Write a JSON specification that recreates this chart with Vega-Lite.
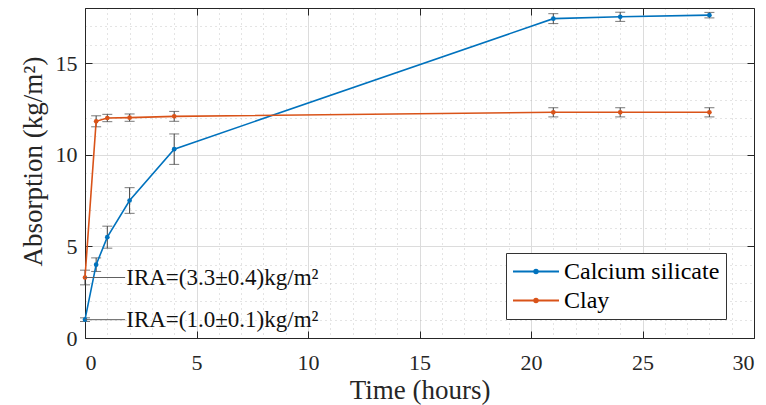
{
  "$schema": "https://vega.github.io/schema/vega-lite/v6.json",
  "width": 669,
  "height": 330,
  "autosize": {"type": "none"},
  "padding": {"left": 85, "top": 8, "right": 12, "bottom": 67},
  "background": "white",
  "config": {
    "view": {"stroke": null},
    "font": "Liberation Serif",
    "axis": {
      "labelFont": "Liberation Serif",
      "titleFont": "Liberation Serif",
      "labelFontSize": 22,
      "titleFontSize": 27,
      "titleFontWeight": "normal",
      "labelColor": "#262626",
      "titleColor": "#262626",
      "domainColor": "#262626",
      "tickColor": "#262626"
    },
    "legend": {"labelFont": "Liberation Serif"},
    "text": {"font": "Liberation Serif"}
  },
  "datasets": {
    "series": [
      {"time": 0, "value": 1.0, "lo": 0.9, "hi": 1.1, "material": "Calcium silicate"},
      {"time": 0.5, "value": 4.0, "lo": 3.63, "hi": 4.37, "material": "Calcium silicate"},
      {"time": 1, "value": 5.5, "lo": 4.9, "hi": 6.1, "material": "Calcium silicate"},
      {"time": 2, "value": 7.5, "lo": 6.8, "hi": 8.2, "material": "Calcium silicate"},
      {"time": 4, "value": 10.3, "lo": 9.47, "hi": 11.13, "material": "Calcium silicate"},
      {"time": 21, "value": 17.42, "lo": 17.15, "hi": 17.69, "material": "Calcium silicate"},
      {"time": 24, "value": 17.52, "lo": 17.27, "hi": 17.77, "material": "Calcium silicate"},
      {"time": 28, "value": 17.61, "lo": 17.46, "hi": 17.76, "material": "Calcium silicate"},
      {"time": 0, "value": 3.3, "lo": 2.9, "hi": 3.7, "material": "Clay"},
      {"time": 0.5, "value": 11.82, "lo": 11.52, "hi": 12.12, "material": "Clay"},
      {"time": 1, "value": 12.0, "lo": 11.8, "hi": 12.2, "material": "Clay"},
      {"time": 2, "value": 12.02, "lo": 11.82, "hi": 12.22, "material": "Clay"},
      {"time": 4, "value": 12.09, "lo": 11.82, "hi": 12.36, "material": "Clay"},
      {"time": 21, "value": 12.31, "lo": 12.06, "hi": 12.56, "material": "Clay"},
      {"time": 24, "value": 12.31, "lo": 12.06, "hi": 12.56, "material": "Clay"},
      {"time": 28, "value": 12.31, "lo": 12.06, "hi": 12.56, "material": "Clay"}
    ],
    "notes": [
      {"x0": 0, "x1": 1.8, "xt": 1.85, "y": 3.3, "label": "IRA=(3.3±0.4)kg/m²"},
      {"x0": 0, "x1": 1.8, "xt": 1.85, "y": 1.0, "label": "IRA=(1.0±0.1)kg/m²"}
    ]
  },
  "resolve": {"axis": {"x": "independent", "y": "independent"}},
  "layer": [
    {
      "data": {"name": "series"},
      "mark": {"type": "point", "opacity": 0},
      "encoding": {
        "x": {"field": "time", "type": "quantitative", "scale": {"domain": [0, 30], "nice": false, "zero": false},
          "axis": {"orient": "bottom", "values": [1,2,3,4,6,7,8,9,11,12,13,14,16,17,18,19,21,22,23,24,26,27,28,29], "grid": true, "gridDash": [1, 4], "gridColor": "#b0b0b0", "gridOpacity": 0.7, "labels": false, "ticks": false, "domain": false, "title": null}},
        "y": {"field": "value", "type": "quantitative", "scale": {"domain": [0, 18], "nice": false, "zero": false},
          "axis": {"orient": "left", "values": [1,2,3,4,6,7,8,9,11,12,13,14,16,17,18], "grid": true, "gridDash": [1, 4], "gridColor": "#b0b0b0", "gridOpacity": 0.7, "labels": false, "ticks": false, "domain": false, "title": null}}
      }
    },
    {
      "data": {"name": "series"},
      "mark": {"type": "rule", "color": "#404040", "strokeWidth": 1},
      "encoding": {
        "x": {"field": "time", "type": "quantitative",
          "axis": {"orient": "top", "values": [0,5,10,15,20,25,30], "grid": false, "labels": false, "ticks": true, "tickSize": -7, "domain": true, "title": null}},
        "y": {"field": "lo", "type": "quantitative",
          "axis": {"orient": "right", "values": [0,5,10,15], "grid": false, "labels": false, "ticks": true, "tickSize": -7, "domain": true, "title": null}},
        "y2": {"field": "hi"}
      }
    },
    {
      "data": {"name": "series"},
      "mark": {"type": "tick", "orient": "horizontal", "color": "#404040", "size": 10, "thickness": 1},
      "encoding": {
        "x": {"field": "time", "type": "quantitative", "axis": null},
        "y": {"field": "lo", "type": "quantitative", "axis": null}
      }
    },
    {
      "data": {"name": "series"},
      "mark": {"type": "tick", "orient": "horizontal", "color": "#404040", "size": 10, "thickness": 1},
      "encoding": {
        "x": {"field": "time", "type": "quantitative", "axis": null},
        "y": {"field": "hi", "type": "quantitative", "axis": null}
      }
    },
    {
      "data": {"name": "series"},
      "mark": {"type": "line", "strokeWidth": 1.6, "point": {"filled": true, "size": 22}},
      "encoding": {
        "x": {"field": "time", "type": "quantitative",
          "axis": {"orient": "bottom", "values": [0,5,10,15,20,25,30], "grid": true, "gridColor": "#dcdcdc", "gridOpacity": 1, "labels": true, "labelFont": "Liberation Serif", "labelFontSize": 22, "ticks": true, "tickSize": -7, "labelPadding": 21, "domain": true, "title": "Time (hours)", "titleFont": "Liberation Serif", "titlePadding": 4}},
        "y": {"field": "value", "type": "quantitative",
          "axis": {"orient": "left", "values": [0,5,10,15], "grid": true, "gridColor": "#dcdcdc", "gridOpacity": 1, "labels": true, "labelFont": "Liberation Serif", "labelFontSize": 22, "ticks": true, "tickSize": -7, "labelPadding": 15, "domain": true, "title": "Absorption (kg/m²)", "titleFont": "Liberation Serif", "titlePadding": 8, "titleY": 153}},
        "color": {"field": "material", "type": "nominal",
          "scale": {"domain": ["Calcium silicate", "Clay"], "range": ["#0072BD", "#D95319"]},
          "legend": {"orient": "none", "legendX": 421, "legendY": 245, "title": null, "symbolType": "M-1,0H3M1.15,0A0.15,0.15,0,1,1,0.85,0A0.15,0.15,0,1,1,1.15,0", "symbolSize": 529, "symbolStrokeWidth": 2, "labelFont": "Liberation Serif", "labelFontSize": 24, "labelColor": "#000", "strokeColor": "#333", "fillColor": "white", "padding": 6, "labelOffset": 27, "rowPadding": 4}}
      }
    },
    {
      "data": {"name": "notes"},
      "mark": {"type": "rule", "color": "#606060", "strokeWidth": 1},
      "encoding": {
        "x": {"field": "x0", "type": "quantitative", "axis": null},
        "x2": {"field": "x1"},
        "y": {"field": "y", "type": "quantitative", "axis": null}
      }
    },
    {
      "data": {"name": "notes"},
      "mark": {"type": "text", "align": "left", "baseline": "middle", "font": "Liberation Serif", "fontSize": 23, "color": "#111"},
      "encoding": {
        "x": {"field": "xt", "type": "quantitative", "axis": null},
        "y": {"field": "y", "type": "quantitative", "axis": null},
        "text": {"field": "label"}
      }
    }
  ]
}
